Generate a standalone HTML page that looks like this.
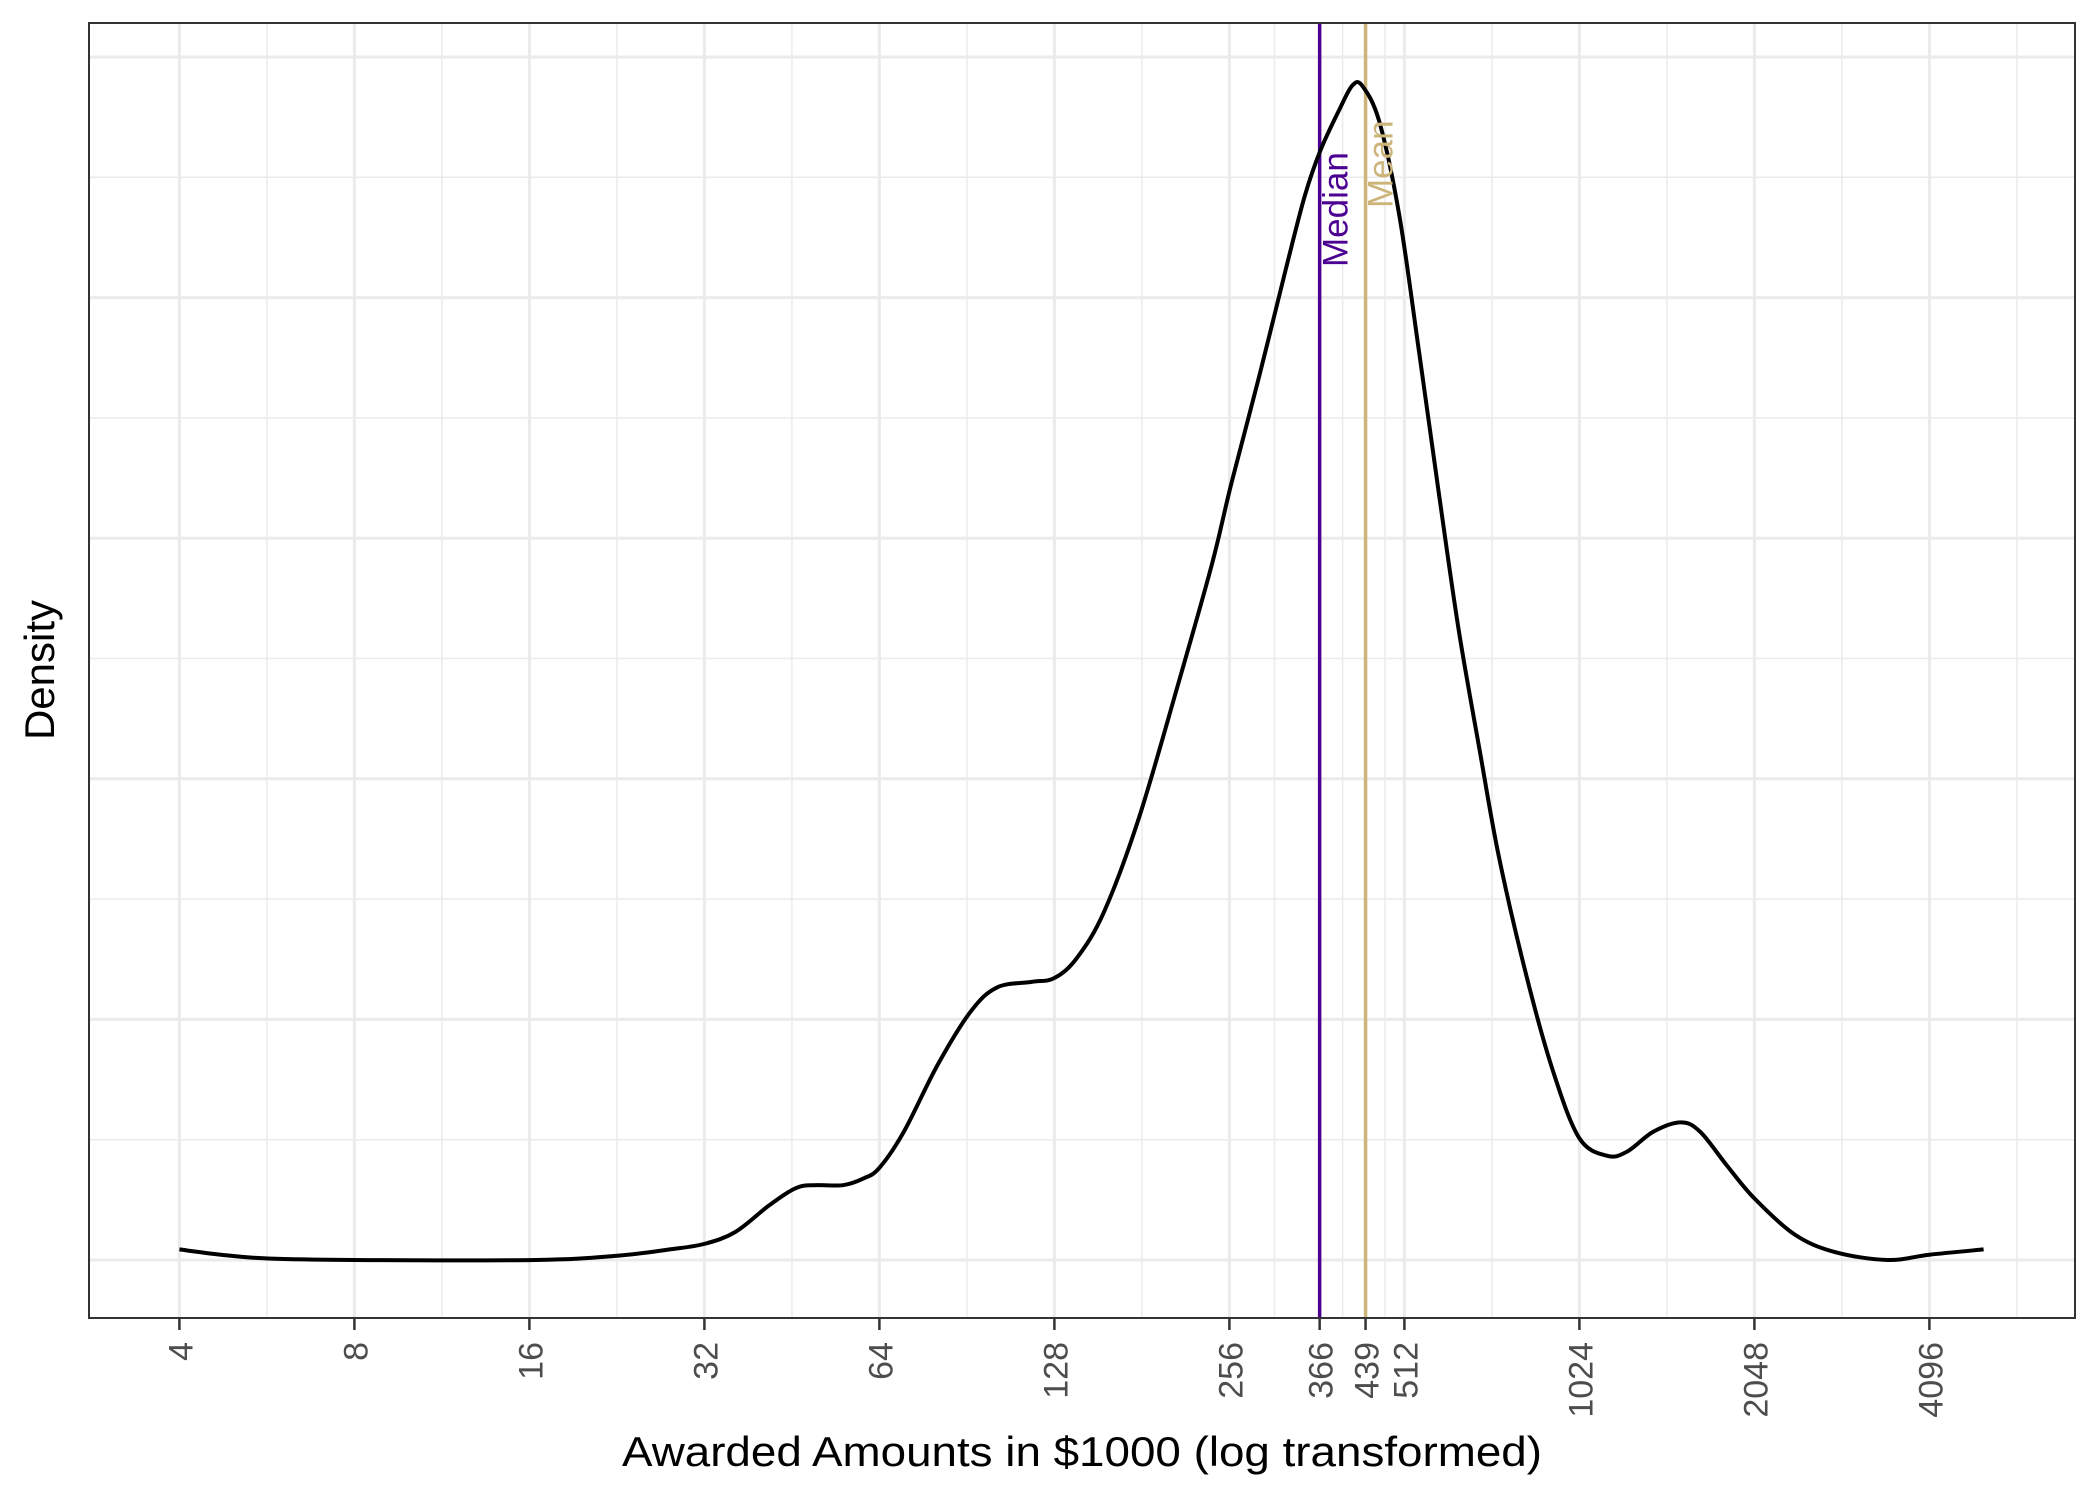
<!DOCTYPE html>
<html><head><meta charset="utf-8"><style>
html,body{margin:0;padding:0;background:#fff;}
svg{display:block;font-family:"Liberation Sans",sans-serif;}
</style></head><body>
<svg id="chart" width="2099" height="1499" viewBox="0 0 2099 1499" xmlns="http://www.w3.org/2000/svg">
<rect x="0" y="0" width="2099" height="1499" fill="#fff"/>
<g id="grid"></g>
<g id="marks"></g>
<rect x="89" y="23" width="1986" height="1295" fill="none" stroke="#333" stroke-width="2"/>
<g id="xaxis"></g>
<text x="1082" y="1466" text-anchor="middle" font-size="42" textLength="920" lengthAdjust="spacingAndGlyphs" fill="#000">Awarded Amounts in $1000 (log transformed)</text>
<text transform="translate(54,670) rotate(-90)" text-anchor="middle" font-size="42" fill="#000">Density</text>
</svg>
<script>
const amounts = [4,4.71,5.68,8,16.4,22.5,27.9,32,36.2,41.4,46.1,49.9,55.4,60.1,64,70.5,80.6,91.9,102,117,128,140,156,179,209,239,258,288,320,345,367,396,417,434,464,502,542,588,635,690,745,832,923,1024,1144,1236,1372,1530,1652,1835,2048,2402,2817,3468,4096,5077];
const densities = [0.044,0.022,0.006,0,0,0.017,0.044,0.067,0.117,0.228,0.3,0.311,0.311,0.339,0.383,0.533,0.811,1.033,1.133,1.156,1.172,1.256,1.45,1.839,2.394,2.894,3.228,3.672,4.117,4.422,4.611,4.783,4.883,4.878,4.728,4.339,3.783,3.172,2.617,2.117,1.672,1.172,0.783,0.506,0.433,0.45,0.533,0.572,0.533,0.394,0.256,0.106,0.033,0,0.022,0.044];
const tickValues = [4,8,16,32,64,128,256,366,439,512,1024,2048,4096];
const tickLabels = ["4","8","16","32","64","128","256","366","439","512","1024","2048","4096"];
const medianValue = 366;
const meanValue = 439;
const yGridValues = [0,0.5,1,1.5,2,2.5,3,3.5,4,4.5,5];

const NS="http://www.w3.org/2000/svg";
function xs(v){return 179.4+Math.log2(v/4)*175;}
function ys(d){return 1260-d*240.6;}
function mk(tag,attrs,parent){const e=document.createElementNS(NS,tag);for(const k in attrs)e.setAttribute(k,attrs[k]);parent.appendChild(e);return e;}
const grid=document.getElementById('grid'),marks=document.getElementById('marks'),xaxis=document.getElementById('xaxis');
yGridValues.forEach((v,i)=>{
 const major=(i%2===0);
 const l=mk('line',{x1:89,x2:2075,y1:ys(v),y2:ys(v),stroke:'#ebebeb','stroke-width':major?3:1.5},grid);
 
 
});
for(let i=0;i<tickValues.length-1;i++){
 const xm=(xs(tickValues[i])+xs(tickValues[i+1]))/2;
 const l=mk('line',{x1:xm,x2:xm,y1:23,y2:1318,stroke:'#ebebeb','stroke-width':1.5},grid);
 
 
}
{const xm=xs(tickValues[tickValues.length-1])+87.5;
 const l=mk('line',{x1:xm,x2:xm,y1:23,y2:1318,stroke:'#ebebeb','stroke-width':1.5},grid);
 
 }
tickValues.forEach((v,i)=>{
 const x=xs(v);
 const l=mk('line',{x1:x,x2:x,y1:23,y2:1318,stroke:'#ebebeb','stroke-width':3},grid);
 
 
 const t=mk('line',{x1:x,x2:x,y1:1318,y2:1330,stroke:'#333','stroke-width':2.5},xaxis);
 
 
 const tx=mk('text',{transform:`translate(${x+13},1342) rotate(-90)`,'text-anchor':'end','font-size':'34',fill:'#4d4d4d'},xaxis);
 tx.textContent=tickLabels[i];
 
 
});
const mx=xs(medianValue),nx=xs(meanValue);
const ml=mk('line',{x1:mx,x2:mx,y1:23,y2:1318,stroke:'#4b0092','stroke-width':3.5},marks);


const nl=mk('line',{x1:nx,x2:nx,y1:23,y2:1318,stroke:'#cdb57a','stroke-width':3.5},marks);


const pts=amounts.map((a,i)=>[xs(a),ys(densities[i])]);
let d=`M${pts[0][0]},${pts[0][1]}`;
for(let i=0;i<pts.length-1;i++){
 const p0=pts[Math.max(0,i-1)],p1=pts[i],p2=pts[i+1],p3=pts[Math.min(pts.length-1,i+2)];
 const c1=[p1[0]+(p2[0]-p0[0])/6,p1[1]+(p2[1]-p0[1])/6];
 const c2=[p2[0]-(p3[0]-p1[0])/6,p2[1]-(p3[1]-p1[1])/6];
 d+=` C${c1[0]},${c1[1]} ${c2[0]},${c2[1]} ${p2[0]},${p2[1]}`;
}
const cp=mk('path',{d:d,fill:'none',stroke:'#000','stroke-width':4,'stroke-linejoin':'round'},marks);


const mt=mk('text',{transform:`translate(${mx+28},267) rotate(-90)`,'font-size':'35',fill:'#4b0092'},marks);
mt.textContent='Median';


const nt=mk('text',{transform:`translate(${nx+27},208) rotate(-90)`,'font-size':'35',fill:'#cdb57a'},marks);
nt.textContent='Mean';


</script>
</body></html>
